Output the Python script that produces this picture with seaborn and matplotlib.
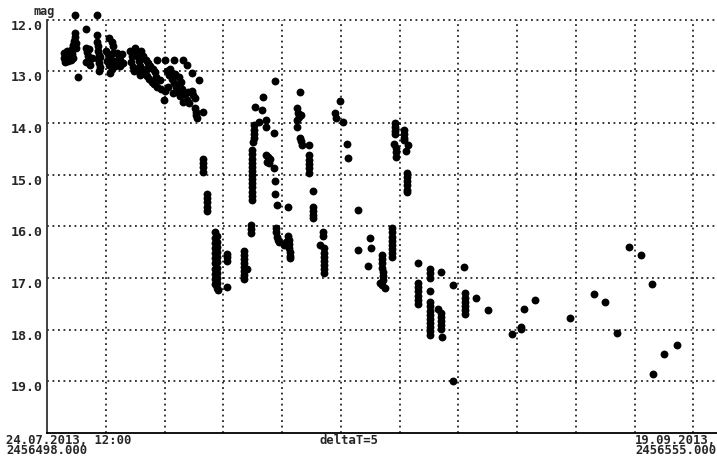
import numpy as np
import pandas as pd
import matplotlib
matplotlib.use("Agg")
import matplotlib.pyplot as plt
import seaborn as sns

# light curve, days counted from JD 2456498.0
JD0 = 2456498.0

# bright plateau (days 1-13)
plateau = [
    (2.35, 11.91), (4.22, 11.91), (3.28, 12.19), (2.63, 13.11), (9.93, 13.56), (12.9, 13.17),
    (1.45, 12.65), (1.45, 12.75), (1.5, 12.82), (1.7, 12.6), (1.75, 12.7), (1.8, 12.8),
    (1.95, 12.72), (2.0, 12.62),
    (2.35, 12.26), (2.4, 12.34), (2.3, 12.42), (2.2, 12.5), (2.1, 12.58), (2.15, 12.66),
    (2.25, 12.74), (2.45, 12.46), (2.5, 12.55), (2.05, 12.78),
    (3.3, 12.55), (3.4, 12.62), (3.5, 12.7), (3.6, 12.8), (3.7, 12.88), (3.8, 12.75),
    (3.35, 12.82), (3.55, 12.58),
    (4.22, 12.3), (4.25, 12.43), (4.3, 12.52), (4.35, 12.6), (4.4, 12.68), (4.3, 12.76),
    (4.45, 12.84), (4.5, 12.92), (4.4, 13.0), (4.55, 12.72),
    (5.3, 12.36), (5.5, 12.44), (5.6, 12.52), (5.0, 12.6), (5.2, 12.66), (5.4, 12.72),
    (5.1, 12.8), (5.3, 12.88), (5.5, 12.95), (5.4, 13.04), (5.7, 12.8), (5.8, 12.9),
    (5.65, 12.65),
    (5.95, 12.64), (6.1, 12.7), (6.25, 12.78), (6.4, 12.66), (6.5, 12.84), (6.2, 12.9),
    (7.1, 12.6), (7.2, 12.7), (7.15, 12.82), (7.3, 12.92), (7.5, 12.55), (7.6, 12.62),
    (7.7, 12.72), (7.85, 12.8), (7.95, 12.9), (7.8, 13.0), (7.4, 13.0),
    (8.0, 12.6), (8.2, 12.7), (8.4, 12.78), (8.6, 12.85), (8.8, 12.9), (9.0, 12.95),
    (9.2, 13.02), (8.1, 12.95), (8.3, 13.05), (8.5, 13.1), (8.7, 13.15), (8.9, 13.2),
    (9.1, 13.25), (9.4, 13.3), (9.7, 13.35), (10.0, 13.38), (7.9, 13.08), (8.5, 12.95),
    (9.3, 13.12), (9.6, 13.18),
    (9.36, 12.78), (10.07, 12.78), (10.78, 12.78), (11.6, 12.78), (11.9, 12.88),
    (10.2, 13.0), (10.4, 13.08), (10.6, 13.15), (10.8, 13.22), (11.0, 13.3), (10.5, 12.95),
    (10.9, 13.05), (11.2, 13.12), (11.4, 13.2), (11.1, 13.4), (11.3, 13.48), (10.3, 13.3),
    (10.7, 13.42),
    (11.5, 13.35), (11.7, 13.45), (11.9, 13.55), (12.1, 13.62), (11.6, 13.6), (12.0, 13.4),
    (12.3, 13.04), (12.35, 13.38), (12.45, 13.46), (12.55, 13.52), (12.6, 13.72),
    (12.65, 13.78), (12.7, 13.84), (12.75, 13.9), (13.3, 13.79),
]

# flaring part (days 13-31)
flares = [
    (13.3, 14.69), (13.3, 14.78), (13.3, 14.86), (13.3, 14.96),
    (13.6, 15.38), (13.6, 15.46), (13.6, 15.54), (13.6, 15.62), (13.65, 15.7),
    (14.3, 16.12), (14.3, 16.22), (14.3, 16.32), (14.3, 16.42), (14.3, 16.52), (14.3, 16.62),
    (14.3, 16.72), (14.3, 16.82), (14.3, 16.92), (14.3, 17.02), (14.3, 17.12),
    (14.5, 16.18), (14.5, 16.3), (14.5, 16.4), (14.5, 16.5), (14.5, 16.6), (14.5, 16.7),
    (14.5, 16.8), (14.5, 16.9), (14.5, 17.0), (14.5, 17.1), (14.5, 17.2), (14.55, 17.24),
    (15.3, 16.53), (15.3, 16.6), (15.3, 16.68), (15.3, 17.18),
    (16.75, 16.47), (16.75, 16.55), (16.75, 16.63), (16.75, 16.71), (16.75, 16.79),
    (16.75, 16.87), (16.75, 16.95), (16.75, 17.03), (17.0, 16.82),
    (17.35, 15.98), (17.35, 16.06), (17.35, 16.14),
    (17.6, 14.05), (17.6, 14.13), (17.6, 14.21), (17.6, 14.29), (17.55, 14.37),
    (17.45, 14.53), (17.45, 14.61), (17.45, 14.69), (17.45, 14.77), (17.45, 14.85),
    (17.45, 14.93), (17.45, 15.01), (17.45, 15.09), (17.45, 15.17), (17.45, 15.25),
    (17.45, 15.33), (17.45, 15.41), (17.45, 15.49),
    (17.7, 13.69), (18.0, 13.98), (18.4, 13.5), (18.3, 13.75), (18.6, 13.95), (18.6, 14.08),
    (19.4, 13.19), (19.3, 14.19),
    (18.65, 14.63), (18.8, 14.66), (18.95, 14.7), (18.7, 14.76), (18.9, 14.78),
    (19.3, 14.88), (19.4, 15.12), (19.4, 15.38), (19.55, 15.58), (20.5, 15.63),
    (19.5, 16.04), (19.5, 16.12), (19.55, 16.2), (19.65, 16.26), (19.75, 16.31),
    (20.3, 16.3), (20.5, 16.18), (20.6, 16.26), (20.6, 16.34), (20.6, 16.42),
    (20.65, 16.5), (20.65, 16.58), (20.7, 16.62), (20.2, 16.36),
    (21.5, 13.4), (21.3, 13.72), (21.35, 13.8), (21.4, 13.88), (21.3, 13.95),
    (21.6, 13.85), (21.3, 14.08),
    (21.5, 14.3), (21.6, 14.36), (21.7, 14.43), (22.3, 14.43),
    (22.25, 14.63), (22.25, 14.71), (22.25, 14.79), (22.25, 14.87), (22.25, 14.97),
    (22.6, 15.32),
    (22.65, 15.63), (22.65, 15.7), (22.65, 15.78), (22.65, 15.85),
    (23.5, 16.12), (23.5, 16.18), (23.2, 16.37),
    (23.6, 16.43), (23.6, 16.51), (23.6, 16.59), (23.6, 16.67), (23.6, 16.75),
    (23.6, 16.83), (23.6, 16.91),
    (24.9, 13.58), (24.5, 13.81), (24.6, 13.9), (25.2, 13.98), (25.5, 14.4), (25.6, 14.68),
    (26.5, 15.68), (26.5, 16.45),
    (27.5, 16.23), (27.55, 16.43), (27.3, 16.76),
    (28.5, 16.56), (28.5, 16.64), (28.5, 16.72), (28.5, 16.8), (28.55, 16.88),
    (28.55, 16.96), (28.6, 17.04), (28.3, 17.1), (28.5, 17.14), (28.75, 17.2),
    (29.35, 16.04), (29.35, 16.12), (29.35, 16.2), (29.35, 16.28), (29.35, 16.36),
    (29.35, 16.44), (29.35, 16.52), (29.35, 16.6),
    (29.6, 14.0), (29.6, 14.08), (29.6, 14.16), (29.6, 14.22), (29.55, 14.4),
    (29.65, 14.49), (29.65, 14.57), (29.65, 14.66),
    (30.35, 14.14), (30.35, 14.22), (30.35, 14.3), (30.35, 14.34), (30.7, 14.43),
    (30.5, 14.55),
    (30.6, 14.97), (30.6, 15.05), (30.6, 15.13), (30.6, 15.21), (30.6, 15.29), (30.6, 15.34),
]

# fading tail (days 31-57)
tail = [
    (31.6, 16.72), (32.6, 16.82), (32.6, 16.9), (32.6, 17.0), (33.5, 16.89),
    (31.6, 17.1), (31.6, 17.18), (31.6, 17.26), (31.6, 17.34), (31.6, 17.42), (31.6, 17.5),
    (32.6, 17.26),
    (32.6, 17.47), (32.6, 17.55), (32.6, 17.63), (32.6, 17.71), (32.6, 17.79),
    (32.6, 17.87), (32.6, 17.95), (32.6, 18.03), (32.6, 18.11),
    (33.3, 17.6), (33.5, 17.67), (33.5, 17.75), (33.5, 17.83), (33.5, 17.91), (33.5, 17.98),
    (33.6, 18.15),
    (34.55, 17.13), (34.55, 19.0), (35.5, 16.78),
    (35.55, 17.3), (35.55, 17.38), (35.55, 17.46), (35.55, 17.54), (35.55, 17.62),
    (35.55, 17.7),
    (36.5, 17.39), (37.5, 17.62), (39.6, 18.08), (40.35, 17.98), (40.3, 17.94),
    (40.55, 17.6), (41.5, 17.42), (44.5, 17.77), (46.5, 17.31), (47.5, 17.46),
    (48.45, 18.06), (49.55, 16.40), (50.5, 16.56), (51.45, 17.11), (53.6, 18.30),
    (52.5, 18.48), (51.55, 18.85),
]

mag_ticks = [12, 13, 14, 15, 16, 17, 18, 19]
day_grid = [5, 10, 15, 20, 25, 30, 35, 40, 45, 50, 55]

df = pd.DataFrame(plateau + flares + tail, columns=["day", "mag"])

sns.set_style("white")
plt.rcParams["font.family"] = ["DejaVu Sans Mono"]
plt.rcParams["font.weight"] = "bold"

W, H = 717, 457
fig = plt.figure(figsize=(W / 100, H / 100), dpi=100)
ax = fig.add_axes([47 / W, 1 - 433 / H, 1 - 47 / W, (433 - 19.5) / H])

sns.scatterplot(data=df, x="day", y="mag", color="black", s=32, linewidth=0,
                ax=ax, clip_on=False, legend=False, zorder=3)

ax.set_xlim(0, 57)
ax.set_ylim(20, 12)

# dotted grid
dots = (0, (1.2, 2.4))
for d in day_grid:
    ax.axvline(d, color="black", lw=1.1, ls=dots, zorder=1)
for m in mag_ticks:
    ax.axhline(m, color="black", lw=1.1, ls=dots, zorder=1, clip_on=False)

ax.set_xticks(day_grid)
ax.set_xticklabels([])
ax.tick_params(axis="x", direction="inout", length=7, width=1, color="black")
ax.set_yticks(mag_ticks)
ax.set_yticklabels([f"{m:.1f}" for m in mag_ticks], fontsize=9.5, fontweight="bold")
for lbl in ax.get_yticklabels():
    lbl.set_verticalalignment("top")
ax.tick_params(axis="y", length=0, pad=3)
ax.set_xlabel("")
ax.set_ylabel("")

for side in ["top", "right"]:
    ax.spines[side].set_visible(False)
ax.spines["left"].set_color("#333333")
ax.spines["left"].set_linewidth(1.3)
ax.spines["bottom"].set_color("black")
ax.spines["bottom"].set_linewidth(1.3)

fs = 8.8
fig.text(33 / W, 1 - 15 / H, "mag", fontsize=8.5, fontweight="bold", va="baseline")
fig.text(6 / W, 1 - 433.5 / H, f"24.07.2013, 12:00\n{JD0:.3f}", fontsize=fs,
         fontweight="bold", va="top", linespacing=0.78)
fig.text(320 / W, 1 - 433.5 / H, "deltaT=5", fontsize=fs, fontweight="bold", va="top")
fig.text(716 / W, 1 - 433.5 / H, f"19.09.2013,\n{JD0 + 57:.3f}", fontsize=fs,
         fontweight="bold", va="top", ha="right", multialignment="right", linespacing=0.78)

fig.savefig("out.png", dpi=100)
